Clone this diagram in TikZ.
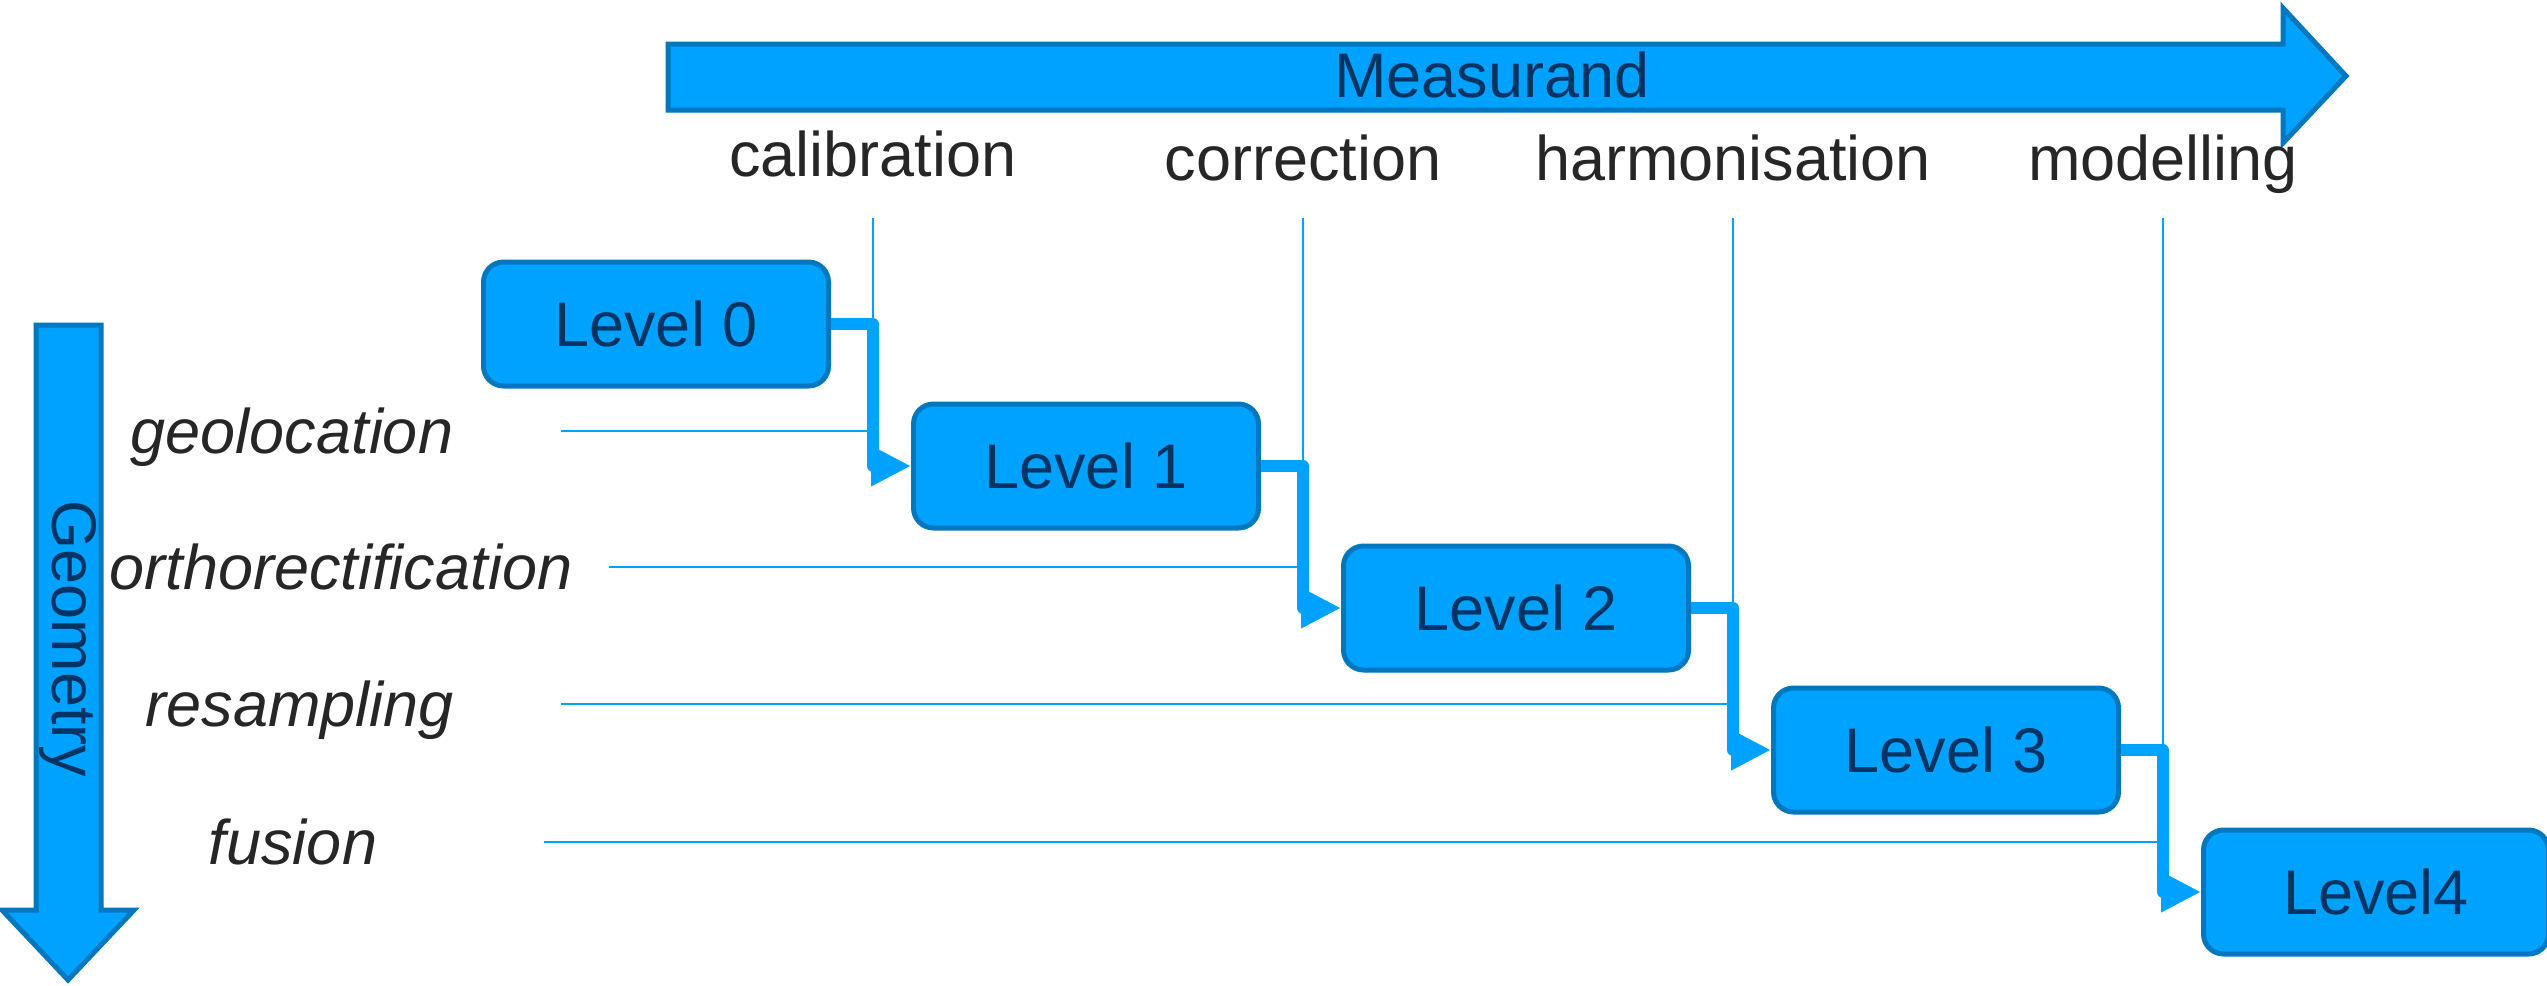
\documentclass[tikz,border=0pt]{standalone}
\usepackage{fontspec}
\setmainfont{Liberation Sans}
\usepackage{tikz}
\usetikzlibrary{arrows.meta,positioning,calc}

\definecolor{skyfill}{HTML}{00A2FF}
\definecolor{skyedge}{HTML}{0077BE}
\definecolor{navytext}{HTML}{003462}
\definecolor{labgray}{HTML}{262626}

\begin{document}
\begin{tikzpicture}[
    x=1pt, y=-1pt,
    node distance=13pt and 80pt,
    bigfont/.style={font=\fontsize{63}{76}\selectfont},
    levelbox/.style={
        rectangle, rounded corners=20pt,
        draw=skyedge, fill=skyfill, line width=5pt,
        minimum width=345pt, minimum height=124pt,
        text=navytext, bigfont
    },
    axislabel/.style={text=navytext, inner sep=0pt, bigfont},
    steplabel/.style={text=labgray, inner sep=0pt, anchor=base, bigfont},
    geolabel/.style={steplabel, font=\fontsize{63}{76}\selectfont\itshape},
    bigarrow/.style={draw=skyedge, fill=skyfill, line width=5pt},
    flow/.style={-{Triangle[length=40pt,width=38pt]}, line width=12pt, color=skyfill, line join=round},
    guide/.style={line width=2pt, color=skyfill},
]
\useasboundingbox (0,0) rectangle (2547,985);

% the two axes
\draw[bigarrow] (668,44) -- (2283,44) -- (2283,8) -- (2346,76) -- (2283,143)
    -- (2283,110) -- (668,110) -- cycle;
\node[axislabel, anchor=base] (meas) at (1492,97) {Measurand};
\draw[bigarrow] (36,325) -- (101,325) -- (101,910) -- (134,910) -- (68,980)
    -- (2,910) -- (36,910) -- cycle;
\node[axislabel, rotate=-90] (geom) at (68,639) {Geometry};

% processing levels
\node[levelbox] (l0) at (656,324) {Level 0};
\node[levelbox, below right=of l0] (l1) {Level 1};
\node[levelbox, below right=of l1] (l2) {Level 2};
\node[levelbox, below right=of l2] (l3) {Level 3};
\node[levelbox, below right=of l3] (l4) {Level4};

\foreach \a in {l0, l1, l2, l3}
  \coordinate (c\a) at ($(\a.east)+(42,0)$);

\coordinate (toplab) at (0,180);
\coordinate (topline) at (0,218);

% measurand steps
\node[steplabel] (cal) at ($(cl0 |- toplab)+(0,-4)$) {calibration};
\node[steplabel] (cor) at (cl1 |- toplab) {correction};
\node[steplabel] (har) at (cl2 |- toplab) {harmonisation};
\node[steplabel] (mod) at (cl3 |- toplab) {modelling};

% geometry steps
\node[geolabel] (geo) at (292,453) {geolocation};
\node[geolabel] (ort) at (341,589) {orthorectification};
\node[geolabel] (res) at (300,726) {resampling};
\node[geolabel] (fus) at (293,864) {fusion};

\coordinate (h0) at (561,431);
\coordinate (h1) at (609,567);
\coordinate (h2) at (561,704);
\coordinate (h3) at (544,842);

\foreach \i/\a in {0/l0, 1/l1, 2/l2, 3/l3} {
  \draw[guide] (c\a |- topline) -- (c\a);
  \draw[guide] (h\i) -- (h\i -| c\a);
}

\foreach \a/\b in {l0/l1, l1/l2, l2/l3, l3/l4}
  \draw[flow] (\a.east) -- (c\a) |- (\b.west);

\end{tikzpicture}
\end{document}
